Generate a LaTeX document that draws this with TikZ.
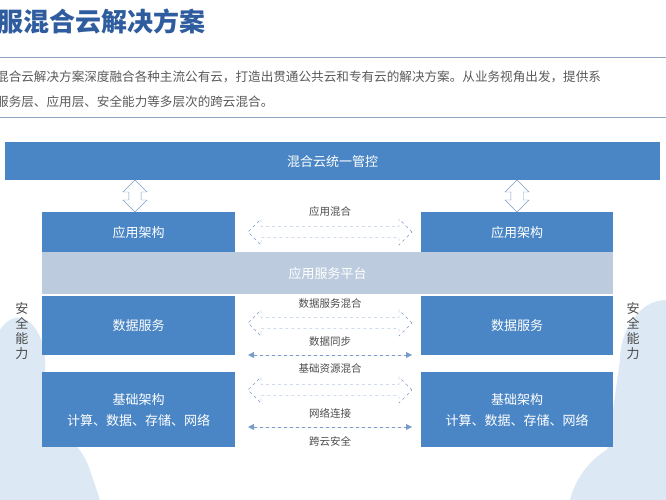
\documentclass[tikz,border=0pt]{standalone}
\usepackage{fontspec}
\newfontfamily\cjk{Noto Sans CJK SC}
\usetikzlibrary{shapes.arrows,arrows.meta}
\definecolor{mblue}{HTML}{4A86C5}
\definecolor{tblue}{HTML}{2E5C9E}
\definecolor{band}{HTML}{BCCBDD}
\definecolor{cloud}{HTML}{DCE8F4}
\definecolor{ln}{HTML}{8FA5BF}
\definecolor{arr}{HTML}{7A9CC8}
\begin{document}
\begin{tikzpicture}[x=1pt,y=-1pt,font=\cjk,
  box/.style={fill=mblue,text=white,font=\cjk\fontsize{13}{15}\selectfont,align=center,inner sep=0,draw=none},
  lbl/.style={font=\cjk\fontsize{10.5}{12}\selectfont,text=black!70},
  harrow/.style={double arrow,draw=arr,dashed,fill=white,minimum height=164,minimum width=26,double arrow head extend=3,inner sep=2,double arrow head indent=0},
  varrow/.style={double arrow,shape border rotate=90,draw=arr,fill=white,minimum height=32,minimum width=24,double arrow head extend=3,inner sep=3},
  sarrow/.style={{Triangle[length=6,width=6]}-{Triangle[length=6,width=6]},draw=arr,fill=arr,dashed,thick}]
\useasboundingbox (0,0) rectangle (666,500);
% clouds
\fill[cloud] (0,500) -- (0,330) .. controls (20,300) and (45,330) .. (45,360) -- (45,500) -- cycle;
\fill[cloud] (0,500) -- (0,430) .. controls (40,400) and (80,440) .. (90,470) -- (100,500) -- cycle;
\fill[cloud] (666,500) -- (666,300) .. controls (640,300) and (620,330) .. (620,360) -- (600,500) -- cycle;
\fill[cloud] (666,500) -- (666,440) .. controls (620,430) and (580,460) .. (570,500) -- cycle;
% header
\node[anchor=west,inner sep=0,text=tblue,font=\cjk\bfseries\fontsize{26}{30}\selectfont] (title) at (-3,22) {服混合云解决方案};
\draw[ln] (0,57) coordinate (l1a) -- (666,57) coordinate (l1b);
\node[anchor=west,inner sep=0,text=black!65,font=\cjk\fontsize{12.6}{15}\selectfont] (t1) at (-4,77) {混合云解决方案深度融合各种主流公有云，打造出贯通公共云和专有云的解决方案。从业务视角出发，提供系};
\node[anchor=west,inner sep=0,text=black!65,font=\cjk\fontsize{12.6}{15}\selectfont] (t2) at (-4,102) {服务层、应用层、安全能力等多层次的跨云混合。};
\draw[ln] (0,117) coordinate (l2a) -- (666,117) coordinate (l2b);
% top bar
\node[box,minimum width=655,minimum height=38,anchor=north west] (top) at (5,142) {混合云统一管控};
% band
\node[fill=band,text=white,font=\cjk\fontsize{13}{15}\selectfont,minimum width=571,minimum height=42,anchor=north west,inner sep=0] (plat) at (42,252) {应用服务平台};
% left boxes
\node[box,minimum width=193,minimum height=40,anchor=north west] (la) at (42,212) {应用架构};
\node[box,minimum width=193,minimum height=59,anchor=north west] (ld) at (42,296) {数据服务};
\node[box,minimum width=193,minimum height=75,anchor=north west] (lb) at (42,372) {基础架构\\[6pt]计算、数据、存储、网络};
\node[box,minimum width=192,minimum height=40,anchor=north west] (ra) at (421,212) {应用架构};
\node[box,minimum width=192,minimum height=59,anchor=north west] (rd) at (421,296) {数据服务};
\node[box,minimum width=192,minimum height=75,anchor=north west] (rb) at (421,372) {基础架构\\[6pt]计算、数据、存储、网络};
% vertical arrows
\node[varrow] (v1) at (135,196) {};
\node[varrow] (v2) at (517,196) {};
% security
\node[font=\cjk\fontsize{13}{15}\selectfont,text=black!70,align=center] (s1) at (22,331) {安\\全\\能\\力};
\node[font=\cjk\fontsize{13}{15}\selectfont,text=black!70,align=center] (s2) at (633,331) {安\\全\\能\\力};
% horizontal
\node[lbl] (a1) at (330,212) {应用混合};
\node[harrow] (h1) at (330,232) {};
\node[lbl] (a2) at (330,304) {数据服务混合};
\node[harrow] (h2) at (330,323) {};
\node[lbl] (a3) at (330,342) {数据同步};
\coordinate (s3a) at (248,355); \coordinate (s3b) at (412,355);
\draw[sarrow] (s3a) -- (s3b);
\node[lbl] (a4) at (330,369) {基础资源混合};
\node[harrow] (h3) at (330,390) {};
\node[lbl] (a5) at (330,413) {网络连接};
\coordinate (s5a) at (248,427); \coordinate (s5b) at (412,427);
\draw[sarrow] (s5a) -- (s5b);
\node[lbl] (a6) at (330,441) {跨云安全};
\end{tikzpicture}
\end{document}
